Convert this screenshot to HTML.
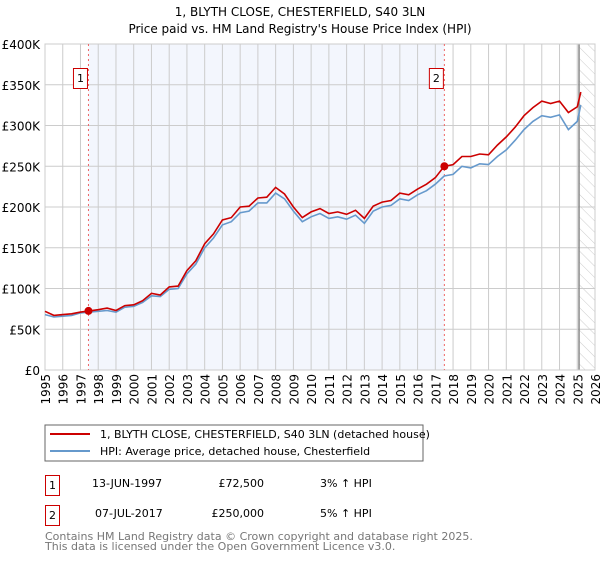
<!DOCTYPE html>
<html><head><meta charset="utf-8"><style>
body{margin:0;background:#fff;width:600px;height:560px;overflow:hidden;font-family:"DejaVu Sans","Liberation Sans",sans-serif;}
svg text{font-family:"DejaVu Sans","Liberation Sans",sans-serif;}
</style></head><body>
<svg id="c" width="600" height="560" xmlns="http://www.w3.org/2000/svg">
<defs><pattern id="hatch" width="8" height="8" patternUnits="userSpaceOnUse" patternTransform="rotate(-45)"><line x1="0" y1="0" x2="0" y2="8" stroke="#ccc" stroke-width="1"/></pattern></defs>
<text x="300" y="16" text-anchor="middle" font-size="12">1, BLYTH CLOSE, CHESTERFIELD, S40 3LN</text>
<text x="300" y="33" text-anchor="middle" font-size="12">Price paid vs. HM Land Registry's House Price Index (HPI)</text>
<g id="plot"></g>
<rect x="45" y="425" width="378" height="36" fill="none" stroke="#666"/>
<line x1="50" y1="434" x2="90" y2="434" stroke="#cc0000" stroke-width="2"/>
<text x="100" y="438" font-size="11">1, BLYTH CLOSE, CHESTERFIELD, S40 3LN (detached house)</text>
<line x1="50" y1="451" x2="90" y2="451" stroke="#6699cc" stroke-width="2"/>
<text x="100" y="455" font-size="11">HPI: Average price, detached house, Chesterfield</text>
<g font-size="11">
<rect x="45.5" y="475.5" width="14" height="20" fill="none" stroke="#cc0000"/>
<text x="52.5" y="489" text-anchor="middle">1</text>
<text x="92" y="487">13-JUN-1997</text>
<text x="264" y="487" text-anchor="end">£72,500</text>
<text x="320" y="487">3% ↑ HPI</text>
<rect x="45.5" y="505.5" width="14" height="20" fill="none" stroke="#cc0000"/>
<text x="52.5" y="519" text-anchor="middle">2</text>
<text x="95" y="517">07-JUL-2017</text>
<text x="264" y="517" text-anchor="end">£250,000</text>
<text x="320" y="517">5% ↑ HPI</text>
</g>
<text x="45" y="540" font-size="11" fill="#777">Contains HM Land Registry data © Crown copyright and database right 2025.</text>
<text x="45" y="550" font-size="11" fill="#777">This data is licensed under the Open Government Licence v3.0.</text>
</svg>
<script>
const years=[1995,1995.5,1996,1996.5,1997,1997.5,1998,1998.5,1999,1999.5,2000,2000.5,2001,2001.5,2002,2002.5,2003,2003.5,2004,2004.5,2005,2005.5,2006,2006.5,2007,2007.5,2008,2008.5,2009,2009.5,2010,2010.5,2011,2011.5,2012,2012.5,2013,2013.5,2014,2014.5,2015,2015.5,2016,2016.5,2017,2017.5,2018,2018.5,2019,2019.5,2020,2020.5,2021,2021.5,2022,2022.5,2023,2023.5,2024,2024.5,2025,2025.2];
const hpiValues=[68,65,66,67,70,71,72,73,71,77,78,83,91,90,99,100,118,130,150,162,178,182,193,195,205,205,217,210,195,182,188,192,186,188,185,190,180,195,200,202,210,208,215,220,228,238,240,250,248,253,252,262,270,282,295,305,312,310,313,295,305,325];
const priceValues=[72,67,68,69,71,72.5,74,76,73,79,80,85,94,92,102,103,122,134,155,167,184,187,200,201,211,212,224,216,200,187,194,198,192,194,191,196,186,201,206,208,217,215,222,228,236,250,252,262,262,265,264,276,286,298,312,322,330,327,330,316,323,341];
const saleYears=[1997.45,2017.51];
const salePrices=[72.5,250];
const saleLabels=["1","2"];
const yTicks=[0,50,100,150,200,250,300,350,400];
const yTickLabels=["£0","£50K","£100K","£150K","£200K","£250K","£300K","£350K","£400K"];
const xTicks=[1995,1996,1997,1998,1999,2000,2001,2002,2003,2004,2005,2006,2007,2008,2009,2010,2011,2012,2013,2014,2015,2016,2017,2018,2019,2020,2021,2022,2023,2024,2025,2026];

const X0=45,X1=595,Y0=370,Y1=44;
const xs=y=>X0+(y-1995)/(2026-1995)*(X1-X0);
const ys=v=>Y0-v/400*(Y0-Y1);
const NS="http://www.w3.org/2000/svg";
const g=document.getElementById('plot');
function mk(t,a){const e=document.createElementNS(NS,t);for(const k in a)e.setAttribute(k,a[k]);g.appendChild(e);return e;}
let e;
e=mk('rect',{x:xs(saleYears[0]),y:Y1,width:xs(saleYears[1])-xs(saleYears[0]),height:Y0-Y1,fill:'#f3f6fd'});


e=mk('rect',{x:xs(2025.1),y:Y1,width:X1-xs(2025.1),height:Y0-Y1,fill:'url(#hatch)'});


yTicks.forEach((t,i)=>{
 e=mk('line',{x1:X0,x2:X1,y1:ys(t),y2:ys(t),stroke:'#ccc'});
 
 
 e=mk('text',{x:40,y:ys(t)+5,'text-anchor':'end','font-size':'12'});e.textContent=yTickLabels[i];
 
 
});
xTicks.forEach(t=>{
 e=mk('line',{x1:xs(t),x2:xs(t),y1:Y1,y2:Y0,stroke:'#ccc'});
 
 
 e=mk('text',{x:0,y:0,'font-size':'12','text-anchor':'end',transform:`translate(${xs(t)+5},374) rotate(-90)`});e.textContent=t;
 
 
});
e=mk('line',{x1:xs(2025.1),x2:xs(2025.1),y1:Y1,y2:Y0,stroke:'#888','stroke-width':1.5});


e=mk('rect',{x:X0,y:Y1,width:X1-X0,height:Y0-Y1,fill:'none',stroke:'#ccc'});


saleYears.forEach((s,i)=>{
 e=mk('line',{x1:xs(s),x2:xs(s),y1:Y1,y2:Y0,stroke:'#e66','stroke-dasharray':'2,3'});
 
 
 e=mk('rect',{x:xs(s)-15,y:68.5,width:14,height:20,fill:'#fff',stroke:'#cc0000'});
 
 
 e=mk('text',{x:xs(s)-8,y:82,'text-anchor':'middle','font-size':'11'});e.textContent=saleLabels[i];
 
 
});
const pts=arr=>arr.map((v,i)=>xs(years[i]).toFixed(1)+','+ys(v).toFixed(1)).join(' ');
e=mk('polyline',{points:pts(hpiValues),fill:'none',stroke:'#6699cc','stroke-width':1.6});


e=mk('polyline',{points:pts(priceValues),fill:'none',stroke:'#cc0000','stroke-width':1.6});


saleYears.forEach((s,i)=>{
 e=mk('circle',{cx:xs(s),cy:ys(salePrices[i]),r:4,fill:'#cc0000'});
 
 
});
</script>
</body></html>
